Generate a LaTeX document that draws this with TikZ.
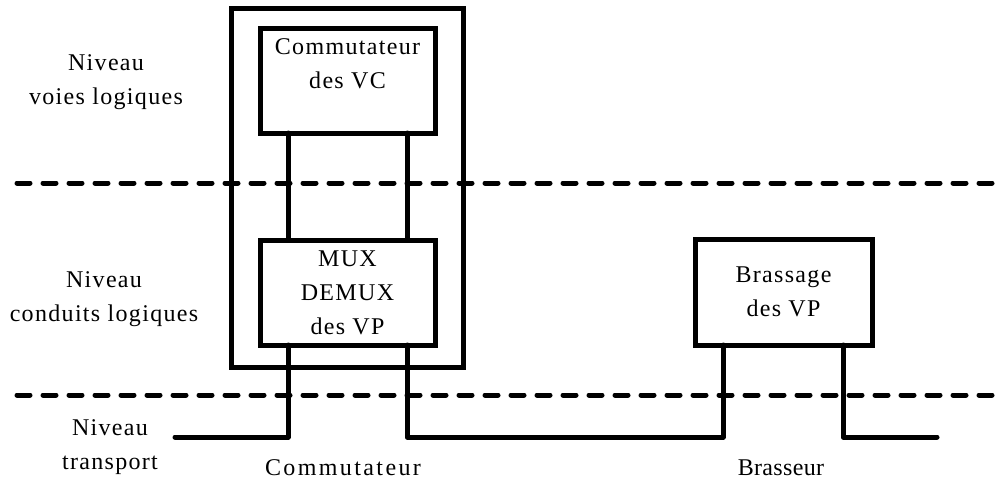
\documentclass[tikz,border=0pt]{standalone}
\usepackage{fontspec}
\setmainfont{Liberation Serif}[LetterSpace=5.5]
\newfontfamily\largespace{Liberation Serif}[LetterSpace=10]
\newfontfamily\tightspace{Liberation Serif}[LetterSpace=1.5]
\usetikzlibrary{positioning}

\tikzset{
  bloc/.style={draw,line width=5pt,outer sep=0pt,align=center,
    minimum width=175pt,minimum height=105pt},
  link/.style={line width=5pt,line join=round,line cap=round},
  niveau/.style={dash pattern=on 13pt off 13pt,line width=5pt,line cap=round},
  txt/.style={align=center,font=\fontsize{24}{34}\selectfont}
}

\begin{document}
\begin{tikzpicture}[x=1pt,y=-1pt]
    \useasboundingbox(0,0)rectangle(998,482);
    % separations des niveaux
    \draw[niveau](17,183)--(998,183);
    \draw[niveau](17,395)--(998,395);
    % commutateur
    \node[bloc,minimum width=232pt,minimum height=359pt](comm)at(347,187.5){};
    \node[bloc,txt,anchor=north,inner sep=2pt](vc)at(347.5,28){Commutateur\\des VC\\[0pt]};
    \node[bloc,txt,inner sep=1pt](mux)at(347.5,292.5){MUX\\DEMUX\\des VP};
    % brasseur
    \node[bloc,txt,minimum width=177pt,minimum height=106pt](brass)at(783.5,292){Brassage\\des VP};
    \coordinate(tl)at(175,437);
    \coordinate(tr)at(937,437);
    \draw[link]([xshift=28pt]vc.south west)--([xshift=28pt]mux.north west);
    \draw[link]([xshift=-28pt]vc.south east)--([xshift=-28pt]mux.north east);
    \draw[link](tl)-|([xshift=28pt]mux.south west);
    \draw[link]([xshift=-28pt]mux.south east)--++(0,92)-|([xshift=28pt]brass.south west);
    \draw[link]([xshift=-29pt]brass.south east)|-(tr);
    % textes
    \node[txt](nvl)at(106,82){Niveau\\voies logiques};
    \node[txt](ncl)at(104,299){Niveau\\conduits logiques};
    \node[txt](ntr)at(110,447){Niveau\\transport};
    \node[txt,font=\fontsize{24}{34}\largespace](lcomm)at(343,468){Commutateur};
    \node[txt,font=\fontsize{24}{34}\tightspace](lbrass)at(781,468){Brasseur};
\end{tikzpicture}
\end{document}
